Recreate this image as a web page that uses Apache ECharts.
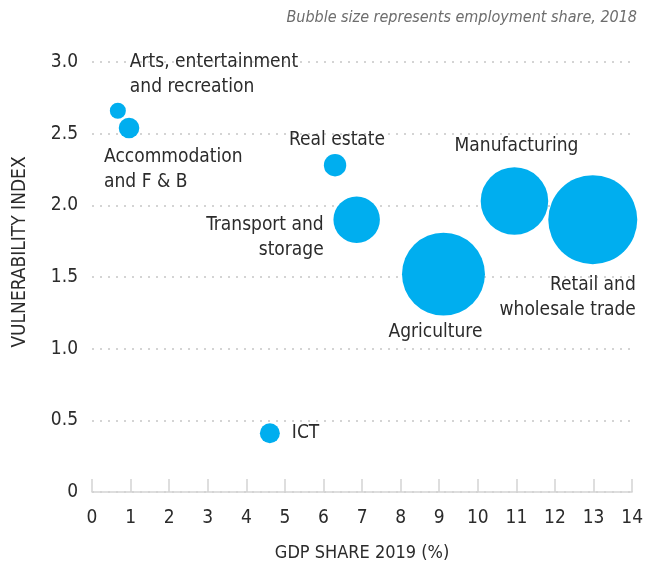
<!DOCTYPE html>
<html>
<head>
<meta charset="utf-8">
<script src="https://cdn.jsdelivr.net/npm/echarts@6/dist/echarts.min.js"></script>
<style>
  html, body { margin: 0; padding: 0; background: #fff; }
  #Chart { width: 646px; height: 570px; }
</style>
</head>
<body>
<div id="Chart"></div>
<script>
var sectors = ['Arts, entertainment\nand recreation', 'Accommodation\nand F & B', 'Real estate', 'Transport and\nstorage',
  'Manufacturing', 'Agriculture', 'Retail and\nwholesale trade', 'ICT'];
var gdpShare = [0.67, 0.96, 6.30, 6.86, 10.95, 9.11, 12.98, 4.61];
var vulnerability = [2.66, 2.54, 2.28, 1.90, 2.03, 1.52, 1.90, 0.41];
var employmentShare = [0.64, 1.06, 1.25, 5.4, 11.4, 17.2, 19.8, 1.0];
var xTicks = [0, 14, 1];
var yTicks = [0, 3, 0.5];

var FONT = '"DejaVu Sans Condensed", "Liberation Sans Narrow", sans-serif';

// where each label sits, relative to its bubble centre
var labelPlace = {
  'Arts, entertainment\nand recreation': { align: 'left', offset: [12, -36] },
  'Accommodation\nand F & B': { align: 'left', offset: [-25, 42] },
  'Real estate': { align: 'center', offset: [2, -25] },
  'Transport and\nstorage': { align: 'right', offset: [-33, 18] },
  'Manufacturing': { align: 'center', offset: [2, -55] },
  'Agriculture': { align: 'center', offset: [-8, 58] },
  'Retail and\nwholesale trade': { align: 'right', offset: [43, 78] },
  'ICT': { align: 'left', offset: [22, 0] }
};

function chartBubble() {
  var myChart = echarts.init(document.getElementById('Chart'));
  var data = sectors.map(function (name, i) {
    return {
      name: name,
      value: [gdpShare[i], vulnerability[i], employmentShare[i]],
      label: {
        show: true,
        position: 'inside',
        align: labelPlace[name].align,
        verticalAlign: 'middle',
        offset: labelPlace[name].offset,
        formatter: '{b}'
      }
    };
  });
  var option = {
    animation: false,
    title: {
      text: 'Bubble size represents employment share, 2018',
      right: 9,
      top: 10,
      padding: 0,
      textStyle: {
        color: '#6d6d6d',
        fontStyle: 'italic',
        fontWeight: 'normal',
        fontSize: 16,
        fontFamily: FONT
      }
    },
    grid: {
      left: 92,
      right: 12,
      top: 62,
      bottom: 78
    },
    graphic: [{
      type: 'text',
      x: 20,
      y: 252,
      rotation: Math.PI / 2,
      style: {
        text: 'VULNERABILITY INDEX',
        fill: '#2b2b2b',
        font: '19px ' + FONT,
        align: 'center',
        verticalAlign: 'middle'
      }
    }],
    xAxis: {
      type: 'value',
      min: xTicks[0],
      max: xTicks[1],
      interval: xTicks[2],
      name: 'GDP SHARE 2019 (%)',
      nameLocation: 'middle',
      nameGap: 52,
      nameTextStyle: { color: '#2b2b2b', fontSize: 18, fontFamily: FONT },
      axisLine: { lineStyle: { color: '#d4d4d4', width: 1.5 } },
      axisTick: { inside: true, length: 13, lineStyle: { color: '#d4d4d4', width: 1.5 } },
      axisLabel: { color: '#2b2b2b', fontSize: 19, fontFamily: FONT, margin: 17 },
      splitLine: { show: false }
    },
    yAxis: {
      type: 'value',
      min: yTicks[0],
      max: yTicks[1],
      interval: yTicks[2],
      axisLine: { show: false },
      axisTick: { show: false },
      axisLabel: {
        color: '#2b2b2b',
        fontSize: 19,
        fontFamily: FONT,
        margin: 14,
        formatter: function (v) { return v === 0 ? '0' : v.toFixed(1); }
      },
      splitLine: { lineStyle: { color: '#d4d4d4', width: 2, type: [2, 6] } }
    },
    series: [{
      type: 'scatter',
      data: data,
      symbolSize: function (val) { return 20 * Math.sqrt(val[2]); },
      itemStyle: { color: '#00aeef', opacity: 1 },
      label: {
        color: '#2b2b2b',
        fontSize: 19,
        lineHeight: 25,
        fontFamily: FONT
      },
      emphasis: { disabled: true }
    }]
  };
  myChart.setOption(option);
  window.addEventListener('resize', function () {
    myChart.resize();
  });
}
chartBubble();
</script>
</body>
</html>
